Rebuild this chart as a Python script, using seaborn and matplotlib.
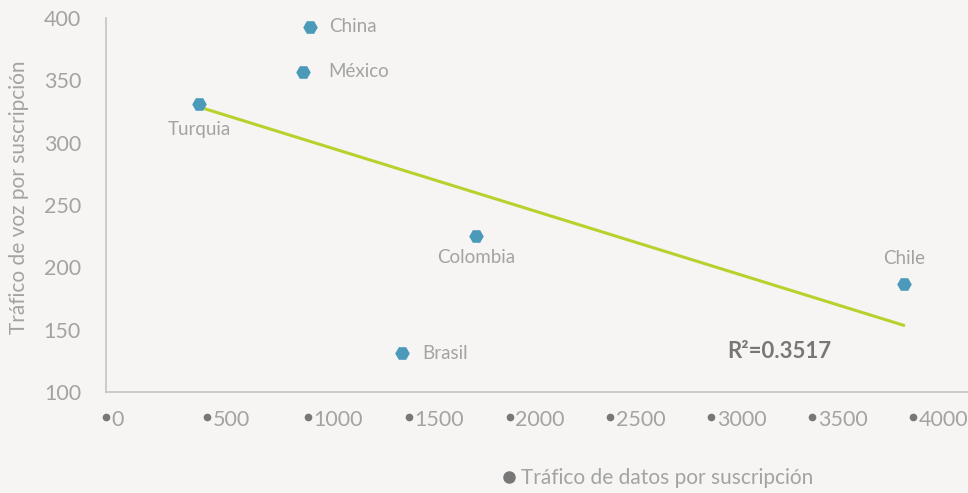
import matplotlib
matplotlib.use("Agg")
import matplotlib.pyplot as plt
from matplotlib.lines import Line2D
from matplotlib.transforms import ScaledTranslation
import numpy as np
import pandas as pd
import seaborn as sns

# ---- data ----
countries = ["Turquia", "China", "México", "Colombia", "Brasil", "Chile"]
datos = [460, 1010, 975, 1835, 1465, 3955]      # Tráfico de datos por suscripción
voz = [331, 393, 357, 225, 131, 187]            # Tráfico de voz por suscripción
x_ticks = [0, 500, 1000, 1500, 2000, 2500, 3000, 3500, 4000]
y_ticks = [100, 150, 200, 250, 300, 350, 400]
r2_text = "R²=0.3517"

df = pd.DataFrame({"pais": countries, "datos": datos, "voz": voz})

BG = "#f6f5f3"
TXT = "#a3a3a3"
DOT = "#777777"
BLUE = "#4b9aba"
GREEN = "#b8d12c"

sns.set_theme(style="white")
plt.rcParams["font.family"] = ["Lato", "DejaVu Sans"]

fig = plt.figure(figsize=(9.68, 4.93), dpi=100, facecolor=BG)
ax = fig.add_axes([106 / 968, 1 - 392 / 493, 1 - 106 / 968, (392 - 18) / 493])
ax.set_facecolor(BG)

sns.regplot(data=df, x="datos", y="voz", ax=ax, ci=None, scatter=False,
            line_kws={"color": GREEN, "lw": 2.2, "zorder": 2})
sns.scatterplot(data=df, x="datos", y="voz", ax=ax, marker="H", s=110,
                color=BLUE, edgecolor=BLUE, linewidth=0, zorder=3)

# point labels
offsets = {
    "Turquia": (0, -12, "center", "top"),
    "China": (14, 0, "left", "center"),
    "México": (18, 0, "left", "center"),
    "Colombia": (0, -9, "center", "top"),
    "Brasil": (15, 0, "left", "center"),
    "Chile": (0, 12, "center", "bottom"),
}
for p, xv, yv in zip(countries, datos, voz):
    dx, dy, ha, va = offsets[p]
    ax.annotate(p, (xv, yv), xytext=(dx, dy), textcoords="offset points",
                ha=ha, va=va, fontsize=13.5, color=TXT)

ax.text((727 - 106) / 862, (392 - 352) / 374,
        r2_text, transform=ax.transAxes, ha="left", va="center",
        fontsize=16, fontweight="bold", color=DOT)

ax.set_xlim(-1, 4273)
ax.set_ylim(100, 400)
ax.set_xticks(x_ticks)
ax.set_xticklabels([str(v) for v in x_ticks])
ax.set_yticks(y_ticks)
ax.set_yticklabels([str(v) for v in y_ticks])
ax.tick_params(axis="both", length=0, colors=TXT, labelsize=15.5)
ax.tick_params(axis="x", pad=13)
ax.tick_params(axis="y", pad=18)
for lab in ax.get_xticklabels():
    lab.set_ha("left")
    lab.set_transform(lab.get_transform() + ScaledTranslation(4 / 72, 0, fig.dpi_scale_trans))

# bullets next to x tick labels
ax.plot(x_ticks, [-0.068] * len(x_ticks), "o", ms=4.5, color=DOT,
        transform=ax.get_xaxis_transform(), clip_on=False)

for s in ["top", "right"]:
    ax.spines[s].set_visible(False)
for s in ["left", "bottom"]:
    ax.spines[s].set_color("#c4c4c4")
    ax.spines[s].set_linewidth(1.2)

ax.set_xlabel("")
ax.set_ylabel("Tráfico de voz por suscripción", fontsize=15, color=TXT,
              labelpad=12)
ax.yaxis.set_label_coords(-(106 - 29) / 862, 0.52)

handle = Line2D([], [], marker="o", ls="none", color=DOT, ms=8)
fig.legend([handle], ["Tráfico de datos por suscripción"], loc="center",
           bbox_to_anchor=(655 / 968, 1 - 478 / 493), frameon=False,
           handletextpad=0.0, handlelength=1.2,
           prop={"size": 15}, labelcolor=TXT)

fig.savefig("out.png", dpi=100, facecolor=BG)
